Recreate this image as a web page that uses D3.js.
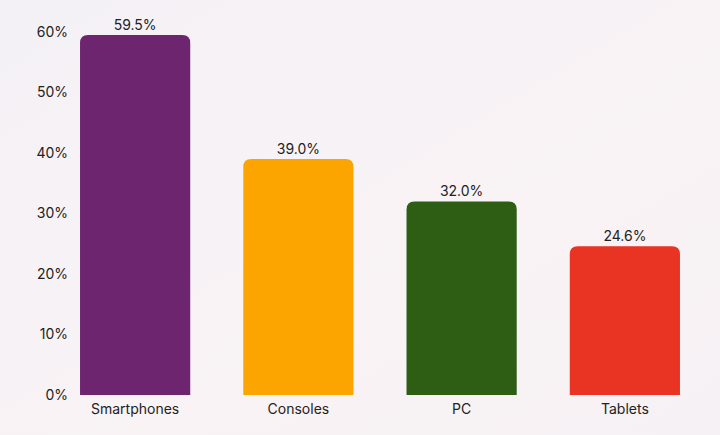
<!DOCTYPE html>
<html><head><meta charset="utf-8">
<script src="https://cdn.jsdelivr.net/npm/d3@7"></script>
<style>body{margin:0;overflow:hidden}text{font-family:Inter,"Noto Sans",sans-serif}</style>
</head><body>
<script>
const categories = ['Smartphones', 'Consoles', 'PC', 'Tablets']
const values = [59.5, 39.0, 32.0, 24.6]
const colors = ['#6e2570', '#fca500', '#2e5d14', '#e93323']
const yTicks = [0, 10, 20, 30, 40, 50, 60]

let width = 720, height = 435
let svg = d3.select('body').append('svg').attr('width', width).attr('height', height)

let defs = svg.append('defs')
let grad = defs.append('linearGradient').attr('id', 'bg').attr('x1', 0).attr('y1', 0).attr('x2', 1).attr('y2', 1)
grad.append('stop').attr('offset', 0).attr('stop-color', '#f4f1f6')
grad.append('stop').attr('offset', 0.6).attr('stop-color', '#f9f3f5')
grad.append('stop').attr('offset', 1).attr('stop-color', '#f6f1f4')
svg.append('rect').attr('width', width).attr('height', height).style('fill', 'url(#bg)')

let x = d3.scaleBand().domain(categories).range([53.5, 706.5]).paddingInner(0.325).paddingOuter(0.1625)
let y = d3.scaleLinear().domain([0, 60]).range([395, 32])

// y axis labels
svg.append('g').selectAll('text').data(yTicks).join('text')
  .attr('x', 68).attr('y', d => y(d)).attr('dy', '0.35em')
  .attr('text-anchor', 'end').attr('font-size', 14).attr('fill', '#222')
  .text(d => d + '%')

const r = 8
let bars = svg.append('g').selectAll('g').data(categories).join('g')
bars.append('path')
  .attr('fill', (d, i) => colors[i])
  .attr('d', (d, i) => {
    let x0 = x(d), w = x.bandwidth(), y0 = y(values[i]), y1 = y(0)
    return `M${x0},${y1}V${y0 + r}Q${x0},${y0} ${x0 + r},${y0}H${x0 + w - r}Q${x0 + w},${y0} ${x0 + w},${y0 + r}V${y1}Z`
  })
bars.append('text')
  .attr('x', d => x(d) + x.bandwidth() / 2).attr('y', (d, i) => y(values[i]) - 5)
  .attr('text-anchor', 'middle').attr('font-size', 14).attr('fill', '#222')
  .text((d, i) => values[i].toFixed(1) + '%')
bars.append('text')
  .attr('x', d => x(d) + x.bandwidth() / 2).attr('y', 414)
  .attr('text-anchor', 'middle').attr('font-size', 14).attr('fill', '#222')
  .text(d => d)
</script>
</body></html>
